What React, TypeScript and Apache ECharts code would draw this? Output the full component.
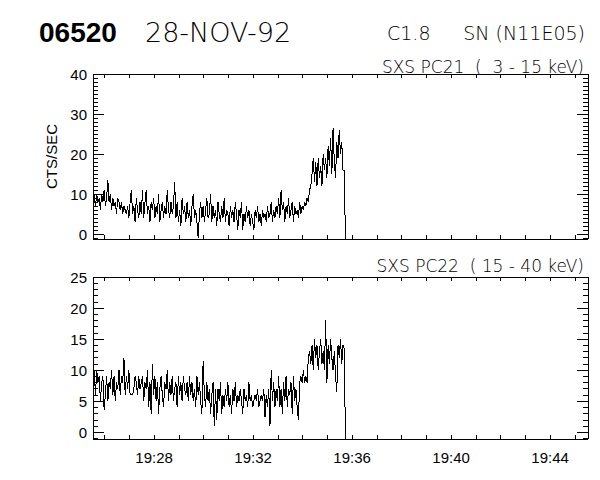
import React, { useEffect, useRef } from "react";
import * as echarts from "echarts";

// sample times: seconds after 19:00 UT, 3-s cadence
const SAMPLE_START_SEC = 1532;
const SAMPLE_STEP_SEC = 3;
const X_MIN_SEC = 1532;
const X_MAX_SEC = 2732;

// SXS PC21 (3 - 15 keV) counts/sec
const pc21Counts = [
  8, 10, 7, 10, 8, 9, 6, 10, 8, 11,
  7, 9, 13.5, 8, 10, 6, 9, 7, 8, 5,
  9, 8, 6, 8, 5, 7, 6, 5, 7, 4,
  8, 11, 5, 7, 3, 9, 6, 4, 8, 5,
  11, 4, 8, 11, 5, 7, 3, 8, 6, 9,
  4, 7, 5, 10, 3, 6, 8, 4, 7, 5,
  11, 6, 4, 8, 5, 7, 13, 4, 8, 3,
  6, 2, 9, 5, 7, 3, 8, 4, 6, 2,
  7, 10, 4, 6, 3, -1, 5, 8, 4, 7,
  3, 6, 9, 4, 5, 10, 3, 7, 4, 6,
  2, 8, 5, 3, 7, 4, 9, 3, 6, 5,
  2, 7, 4, 6, 3, 8, 5, 1, 6, 4,
  8, 1, 5, 3, 7, 4, 6, 2, 5, 3,
  1, 6, 4, 7, 3, 5, 2, 6, 4, 5,
  3, 7, 4, 5, 8, 3, 6, 4, 7, 5,
  9, 4, 11, 6, 8, 3, 7, 5, 9, 4,
  6, 8, 3, 7, 5, 6, 4, 8, 5, 7,
  6, 8, 7, 9, 8, 11, 12, 15, 19, 13,
  18, 12, 19, 14, 17, 12, 20, 16, 19, 14,
  22, 17, 24, 15, 26.5, 18, 14, 23, 19, 26,
  20, 23, 16, 16,
];
const pc21EndValue = -1.25;

// SXS PC22 (15 - 40 keV) counts/sec
const pc22Counts = [
  7, 10, 6, 10, 8, 9, 5, 8, 9, 3.5,
  6, 9, 5, 8, 7, 10, 6, 9, 5, 8,
  7, 10, 6, 9, 8, 12, 6, 9, 7, 10,
  6, 6, 6, 7, 9, 8, 6, 9, 7, 8,
  9, 5, 8, 7, 10, 4, 8, 3, 11, 6,
  9, 5, 8, 3, 7, 9, 6, 4, 8, 7,
  10, 5, 8, 6, 9, 5, 7, 8, 4, 9,
  6, 8, 5, 9, 7, 6, 8, 5, 9, 6,
  8, 5, 7, 4, 9, 6, 8, 5, 3, 11.5,
  6, 4, 8, 5, 7, 3, 6, 8, 1, 7,
  2, 7, 5, 8, 3, 6, 4, 7, 5, 8,
  4, 6, 3, 7, 5, 8, 4, 6, 5, 7,
  5, 3, 7, 5, 6, 4, 8, 5, 6, 4,
  5, 6, 5, 7, 4, 5, 6, 5, 7, 2.5,
  6, 4, 7, 1, 10, 5, 8, 4, 7, 5,
  9, 4, 7, 3, 8, 5, 9, 4, 7, 6,
  8, 3, 9, 5, 7, 4, 2, 8, 9, 8,
  10, 8, 9, 8, 12, 13, 11, 14, 10, 15,
  12, 14, 10, 13, 15, 11, 13, 10, 18, 8,
  14, 11, 15, 12, 10, 13, 9, 6.5, 14, 12,
  15, 11, 14, 13.5,
];
const pc22EndValue = -1.1;

// axis ticks
const xTickSec = [1560, 1620, 1680, 1740, 1800, 1860, 1920, 1980, 2040, 2100, 2160, 2220, 2280, 2340, 2400, 2460, 2520, 2580, 2640, 2700];
const xLabelSec = [1680, 1920, 2160, 2400, 2640];
const pc21Range = [-1.25, 40];
const pc21MajorTicks = [0, 10, 20, 30, 40];
const pc21MinorTicks = [-1, 0, 1, 2, 3, 4, 5, 6, 7, 8, 9, 10, 11, 12, 13, 14, 15, 16, 17, 18, 19, 20, 21, 22, 23, 24, 25, 26, 27, 28, 29, 30, 31, 32, 33, 34, 35, 36, 37, 38, 39, 40];
const pc22Range = [-1.1, 25];
const pc22MajorTicks = [0, 5, 10, 15, 20, 25];
const pc22MinorTicks = [-1, 0, 1, 2, 3, 4, 5, 6, 7, 8, 9, 10, 11, 12, 13, 14, 15, 16, 17, 18, 19, 20, 21, 22, 23, 24, 25];

const FONT = "Liberation Sans";
const THIN = "DejaVu Sans";
const BLACK = "#000";

function toPairs(vals: number[], endVal: number) {
  const out: number[][] = vals.map((v, i) => [SAMPLE_START_SEC + i * SAMPLE_STEP_SEC, v]);
  out.push([SAMPLE_START_SEC + vals.length * SAMPLE_STEP_SEC, endVal]);
  return out;
}

function fmtTime(sec: number) {
  const m = Math.round(sec / 60);
  return "19:" + String(m).padStart(2, "0");
}

function xAxes(gridIndex: number, withLabels: boolean) {
  const common = {
    type: "value",
    gridIndex,
    min: X_MIN_SEC,
    max: X_MAX_SEC,
    splitLine: { show: false },
    axisLine: { show: true, onZero: false, lineStyle: { color: BLACK, width: 1 } },
    axisTick: { show: true, inside: true, length: 4, customValues: xTickSec, lineStyle: { color: BLACK } },
  };
  return [
    {
      ...common,
      position: "bottom",
      axisLabel: withLabels
        ? { show: true, customValues: xLabelSec, formatter: (v: number) => fmtTime(v), color: BLACK, fontFamily: FONT, fontSize: 15, margin: 11 }
        : { show: false },
    },
    { ...common, position: "top", axisLabel: { show: false } },
  ];
}

function yAxes(gridIndex: number, range: number[], major: number[], minor: number[], name?: string) {
  const base = {
    type: "value",
    gridIndex,
    min: range[0],
    max: range[1],
    splitLine: { show: false },
    axisLine: { show: true, onZero: false, lineStyle: { color: BLACK, width: 1 } },
  };
  const mk = (position: string, ticks: number[], len: number, labels: boolean) => ({
    ...base,
    position,
    axisTick: { show: true, inside: true, length: len, customValues: ticks, lineStyle: { color: BLACK } },
    axisLabel: labels
      ? { show: true, customValues: major, color: BLACK, fontFamily: FONT, fontSize: 15, margin: 6 }
      : { show: false },
    ...(labels && name
      ? {
          name,
          nameLocation: "middle",
          nameRotate: 90,
          nameGap: 33,
          nameTextStyle: { color: BLACK, fontFamily: FONT, fontSize: 15 },
        }
      : {}),
  });
  return [
    mk("left", major, 11, true),
    mk("left", minor, 5, false),
    mk("right", major, 11, false),
    mk("right", minor, 5, false),
  ];
}

function txt(text: string, x: number, y: number, fontSize: number, family: string, weight: any, align: string) {
  return {
    type: "text",
    x,
    y,
    style: {
      text,
      fill: BLACK,
      fontFamily: family,
      fontSize,
      fontWeight: weight,
      textAlign: align,
      textVerticalAlign: "middle",
      align,
      verticalAlign: "middle",
    },
  };
}

export default function App() {
  const ref = useRef<HTMLDivElement>(null);

  useEffect(() => {
    document.body.style.margin = "0";
    if (!ref.current) return;
    const chart = echarts.init(ref.current, undefined, { renderer: "svg" });

    const option: any = {
      animation: false,
      backgroundColor: "#fff",
      textStyle: { fontFamily: FONT, color: BLACK },
      grid: [
        { left: 93, top: 74, width: 495, height: 165 },
        { left: 93, top: 277, width: 495, height: 162 },
      ],
      xAxis: [...xAxes(0, false), ...xAxes(1, true)],
      yAxis: [
        ...yAxes(0, pc21Range, pc21MajorTicks, pc21MinorTicks, "CTS/SEC"),
        ...yAxes(1, pc22Range, pc22MajorTicks, pc22MinorTicks),
      ],
      series: [
        {
          type: "line",
          xAxisIndex: 0,
          yAxisIndex: 0,
          showSymbol: false,
          lineStyle: { color: BLACK, width: 1 },
          data: toPairs(pc21Counts, pc21EndValue),
        },
        {
          type: "line",
          xAxisIndex: 2,
          yAxisIndex: 4,
          showSymbol: false,
          lineStyle: { color: BLACK, width: 1 },
          data: toPairs(pc22Counts, pc22EndValue),
        },
      ],
      graphic: [
        txt("06520", 39, 32, 28, FONT, "bold", "left"),
        txt("28-NOV-92", 145, 32, 27, THIN, 200, "left"),
        txt("C1.8", 387, 33, 19, THIN, 200, "left"),
        txt("SN (N11E05)", 585, 33, 19, THIN, 200, "right"),
        txt("SXS PC21  (  3 - 15 keV)", 584, 67, 17, THIN, 200, "right"),
        txt("SXS PC22  ( 15 - 40 keV)", 584, 266, 17, THIN, 200, "right"),
      ],
    };

    chart.setOption(option);
    return () => {
      chart.dispose();
    };
  }, []);

  return (
    <>
      <style>{"svg path{shape-rendering:crispEdges}"}</style>
      <div ref={ref} style={{ width: 600, height: 480 }} />
    </>
  );
}
